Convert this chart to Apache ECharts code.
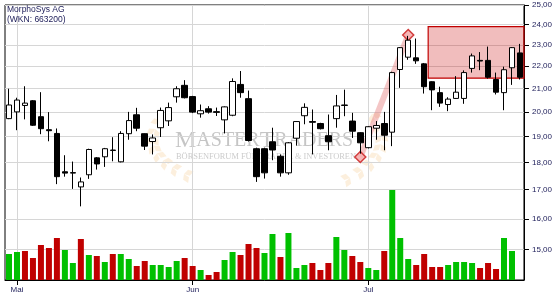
<!DOCTYPE html>
<html><head><meta charset="utf-8">
<script src="https://cdn.jsdelivr.net/npm/echarts@6/dist/echarts.min.js"></script>
<style>html,body{margin:0;padding:0;background:#fff}#c{width:555px;height:300px}</style>
</head><body><div id="c"></div>
<script>
// ---- data ----
const dates = ['2011-04-29',
 '2011-05-02','2011-05-03','2011-05-04','2011-05-05','2011-05-06','2011-05-09','2011-05-10','2011-05-11','2011-05-12','2011-05-13','2011-05-16','2011-05-17','2011-05-18','2011-05-19','2011-05-20','2011-05-23','2011-05-24','2011-05-25','2011-05-26','2011-05-27','2011-05-30','2011-05-31',
 '2011-06-01','2011-06-02','2011-06-03','2011-06-06','2011-06-07','2011-06-08','2011-06-09','2011-06-10','2011-06-13','2011-06-14','2011-06-15','2011-06-16','2011-06-17','2011-06-20','2011-06-21','2011-06-22','2011-06-23','2011-06-24','2011-06-27','2011-06-28','2011-06-29','2011-06-30',
 '2011-07-01','2011-07-04','2011-07-05','2011-07-06','2011-07-07','2011-07-08','2011-07-11','2011-07-12','2011-07-13','2011-07-14','2011-07-15','2011-07-18','2011-07-19','2011-07-20','2011-07-21','2011-07-22','2011-07-25','2011-07-26','2011-07-27','2011-07-28'];
const opens = [19.72,20.00,20.27,20.47,19.80,19.27,19.12,17.65,17.60,17.10,
 17.54,18.17,18.21,18.45,18.02,19.11,19.88,19.11,18.80,19.35,
 19.63,20.64,21.14,20.65,19.92,20.13,20.01,19.67,19.86,21.18,
 20.56,18.52,18.52,18.79,18.23,17.61,18.93,19.84,19.60,19.52,
 19.03,19.72,20.27,19.62,19.15,18.56,19.33,19.52,19.17,21.85,
 22.42,22.39,22.11,21.30,20.82,20.31,20.57,20.57,21.90,22.27,
 22.27,21.40,20.82,21.93,22.62];
const closes = [20.29,20.50,20.37,19.45,19.31,19.23,17.47,17.60,17.62,17.28,
 18.49,17.94,18.52,18.47,19.12,19.64,19.33,18.62,18.94,20.06,
 20.18,20.99,20.60,19.99,20.05,19.99,19.98,20.21,21.31,20.82,
 18.84,17.47,17.61,18.47,17.61,18.75,19.60,20.19,19.57,19.31,
 18.79,20.25,20.29,19.21,18.75,19.39,19.44,19.05,21.71,22.87,
 23.23,22.25,21.08,20.94,20.37,20.54,20.84,21.71,22.48,22.24,
 21.50,20.84,21.84,22.87,21.50];
const lows = [19.70,19.25,19.69,19.42,19.09,18.81,17.20,17.47,17.03,16.42,
 17.39,17.73,17.83,18.04,18.00,18.87,19.21,18.47,18.30,18.98,
 19.42,20.39,20.57,19.95,19.76,19.93,19.83,19.12,19.82,20.60,
 18.80,17.28,17.40,18.08,17.47,17.54,18.64,19.49,18.30,19.28,
 18.46,19.35,19.82,18.94,18.33,18.53,18.87,18.46,18.62,21.03,
 22.30,22.11,20.78,20.07,20.21,20.03,20.55,20.34,21.71,21.82,
 21.44,20.74,20.07,21.16,21.40];
const highs = [20.99,20.60,21.10,20.50,20.84,19.99,19.32,18.27,18.03,17.44,
 18.52,18.20,18.55,18.97,19.21,20.00,20.17,19.12,19.08,20.18,
 20.39,21.10,21.37,20.68,20.31,20.24,20.18,20.23,21.45,21.78,
 20.91,18.56,18.56,19.35,18.30,18.78,19.62,20.36,20.10,19.55,
 19.89,20.72,20.95,19.96,19.17,19.41,19.62,20.00,21.75,22.90,
 23.44,23.31,22.15,21.32,21.08,20.62,21.55,21.81,22.59,22.66,
 22.92,21.71,21.98,22.90,23.05];
// volume in thousand shares (last day not yet reported)
const volumes = [260,280,290,220,350,320,420,300,170,410,
 250,240,180,260,260,210,140,190,150,150,
 130,190,220,140,100,50,80,200,280,250,
 360,320,270,460,230,470,120,150,170,100,
 170,430,300,240,180,120,100,290,900,420,
 210,150,260,130,130,150,180,180,170,120,
 170,110,420,290];
const priceTicks = [15,16,17,18,19,20,21,22,23,24,25];
const monthNames = ['Jan','Feb','Mär','Apr','Mai','Jun','Jul','Aug','Sep','Okt','Nov','Dez'];
const trendPoints = [[44, 18.20], [50, 23.48]];
const boxFromIdx = 52.5, boxToIdx = 64.5, boxTop = 23.90, boxBottom = 21.46;
const titleLines = ['MorphoSys AG', '(WKN: 663200)'];

// ---- build ----
const candleData = dates.map((d, i) => [opens[i], closes[i], lows[i], highs[i]]);
const volData = dates.map((d, i) => {
  if (i >= volumes.length) return '-';
  const up = i === 0 ? closes[i] >= opens[i] : closes[i] >= closes[i - 1];
  return { value: volumes[i], itemStyle: { color: up ? '#00c000' : '#c00000' } };
});
const isMonthStart = (idx) => idx > 0 && dates[idx].slice(5, 7) !== dates[idx - 1].slice(5, 7);
const monthStartIdx = dates.map((d, i) => i).filter(isMonthStart);
const TXT = '#1c1c58';

// watermark laurel leaves (decoration)
function laurel(p0, p1, p2) {
  const out = [];
  for (let k = 0; k <= 7; k++) {
    const t = k / 7;
    const x = (1-t)*(1-t)*p0[0] + 2*(1-t)*t*p1[0] + t*t*p2[0];
    const y = (1-t)*(1-t)*p0[1] + 2*(1-t)*t*p1[1] + t*t*p2[1];
    let dx = 2*(1-t)*(p1[0]-p0[0]) + 2*t*(p2[0]-p1[0]);
    let dy = 2*(1-t)*(p1[1]-p0[1]) + 2*t*(p2[1]-p1[1]);
    const n = Math.hypot(dx, dy); dx /= n; dy /= n;
    [-1, 1].forEach(s => {
      const a = s * 0.7;
      const ux = -(dx*Math.cos(a) - dy*Math.sin(a));
      const uy = -(dx*Math.sin(a) + dy*Math.cos(a));
      const L = 10, W = 3.2;
      const px = -uy, py = ux;
      out.push({
        type: 'polygon', silent: true, z: 0,
        shape: { points: [[x, y], [x + ux*L/2 + px*W, y + uy*L/2 + py*W], [x + ux*L, y + uy*L], [x + ux*L/2 - px*W, y + uy*L/2 - py*W]] },
        style: { fill: 'rgba(247,205,150,0.32)' }
      });
    });
  }
  return out;
}

const wmFill = 'rgba(150,150,150,0.55)';
const graphics = [
  { type: 'text', left: 7, top: 5, z: 10, style: { text: titleLines[0], font: '8.5px "Liberation Sans"', fill: TXT } },
  { type: 'text', left: 7, top: 15, z: 10, style: { text: titleLines[1], font: '8.5px "Liberation Sans"', fill: TXT } },
  { type: 'text', x: 175, y: 129, z: 0, silent: true, style: {
      text: '{a|M}{b|ASTER}{a|T}{b|RADERS}', fill: wmFill,
      rich: { a: { fontSize: 24, fontFamily: 'Liberation Serif', fill: wmFill },
              b: { fontSize: 20, fontFamily: 'Liberation Serif', fill: wmFill } } } },
  { type: 'text', x: 176, y: 153, z: 0, silent: true, style: { text: 'BÖRSENFORUM FÜR TRADER & INVESTOREN', font: '8.4px "Liberation Serif"', fill: 'rgba(160,160,160,0.55)' } }
].concat(laurel([184, 174], [138, 152], [160, 120])).concat(laurel([350, 178], [398, 152], [372, 114]));

const chart = echarts.init(document.getElementById('c'), null, { renderer: 'canvas' });
chart.setOption({
  animation: false,
  backgroundColor: '#ffffff',
  graphic: graphics,
  grid: { left: 5, right: 30, top: 5, bottom: 20, show: true, borderColor: '#000', borderWidth: 1, backgroundColor: 'transparent' },
  xAxis: [{
    type: 'category', data: dates, boundaryGap: true,
    axisLine: { show: true, onZero: false, lineStyle: { color: '#000', width: 1 } },
    axisTick: { show: true, length: 5, alignWithLabel: true, interval: (i) => isMonthStart(i), lineStyle: { color: '#000' } },
    axisLabel: { interval: (i) => isMonthStart(i), formatter: (v) => monthNames[parseInt(v.slice(5, 7), 10) - 1],
      fontSize: 8, fontFamily: 'Liberation Sans', color: TXT, margin: 6 },
    splitLine: { show: false }
  }, {
    type: 'value', min: -0.5, max: dates.length - 0.5, show: true, position: 'top',
    axisLine: { show: false, onZero: false }, axisLabel: { show: false },
    axisTick: { show: false, customValues: monthStartIdx },
    splitLine: { show: true, lineStyle: { color: '#d6d6d6', width: 1 } }
  }],
  yAxis: [{
    type: 'log', logBase: 10, min: 14.08, max: 25, position: 'right',
    axisLine: { show: true, onZero: false, lineStyle: { color: '#000', width: 1 } },
    axisTick: { show: true, length: 5, customValues: priceTicks, lineStyle: { color: '#000' } },
    axisLabel: { customValues: priceTicks, formatter: (v) => Number(v).toFixed(2).replace('.', ','),
      fontSize: 8, fontFamily: 'Liberation Sans', color: TXT, margin: 8 },
    splitLine: { show: true, lineStyle: { color: '#d6d6d6', width: 1 } },
    minorTick: { show: false }, minorSplitLine: { show: false }
  }, {
    type: 'value', min: 0, max: 2750, show: false, axisLine: { onZero: false }, splitLine: { show: false }
  }],
  series: [{
    name: 'Umsatz', type: 'bar', xAxisIndex: 0, yAxisIndex: 1, data: volData, barWidth: 6, z: 1
  }, {
    name: 'Trend', type: 'line', xAxisIndex: 1, yAxisIndex: 0, data: trendPoints, z: 1,
    symbol: 'diamond', symbolSize: 11,
    lineStyle: { color: 'rgba(228,120,120,0.42)', width: 6 },
    itemStyle: { color: 'rgba(245,175,175,0.9)', borderColor: '#d23c3c', borderWidth: 1.5 },
    markArea: { silent: true,
      itemStyle: { color: 'rgba(200,0,0,0.26)', borderColor: '#c00000', borderWidth: 1.2 },
      data: [[{ coord: [boxFromIdx, boxTop] }, { coord: [boxToIdx, boxBottom] }]] }
  }, {
    name: 'MorphoSys', type: 'candlestick', xAxisIndex: 0, yAxisIndex: 0, data: candleData, barWidth: 6, z: 3,
    itemStyle: { color: '#ffffff', color0: '#000000', borderColor: '#000000', borderColor0: '#000000', borderColorDoji: '#000000', borderWidth: 1 }
  }]
});
</script></body></html>
